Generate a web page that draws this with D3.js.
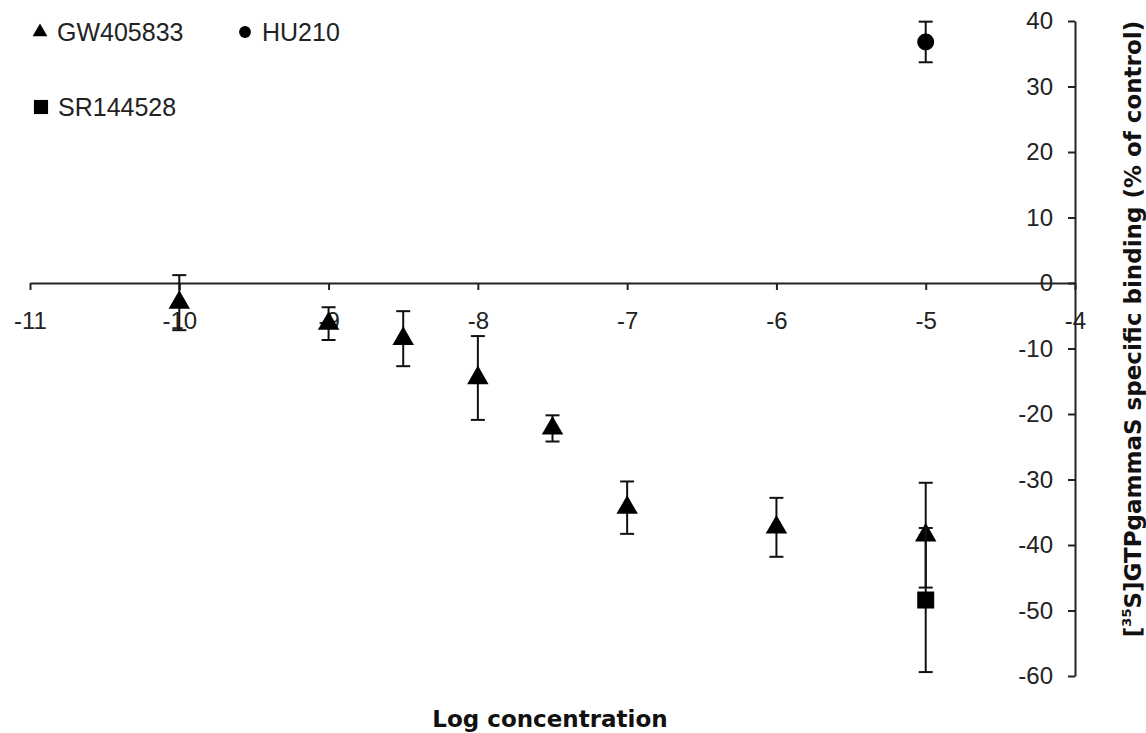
<!DOCTYPE html>
<html>
<head>
<meta charset="utf-8">
<script src="https://cdn.jsdelivr.net/npm/d3@7"></script>
<style>
  body { margin: 0; background: #fff; }
  svg { display: block; }
  .tick text { font-family: "Liberation Sans", Arial, sans-serif; font-size: 24px; fill: #222; }
</style>
</head>
<body>
<div id="chart"></div>
<script>
// log concentrations and binding values (% of control)
var gwConc = [-10, -9, -8.5, -8, -7.5, -7, -6, -5];
var gwMean = [-3, -6.2, -8.5, -14.5, -22.2, -34.3, -37.3, -38.5];
var gwErr  = [4.2, 2.5, 4.2, 6.4, 2, 4, 4.5, 8];

var huConc = [-5];
var huMean = [36.8];
var huErr  = [3.1];

var srConc = [-5];
var srMean = [-48.4];
var srErr  = [11];

var xTicks = [-11, -10, -9, -8, -7, -6, -5, -4];
var yTicks = [-60, -50, -40, -30, -20, -10, 0, 10, 20, 30, 40];

var ctx = { w: 1146, h: 733 };

var svg = d3.select("#chart").append("svg")
  .attr("width", ctx.w)
  .attr("height", ctx.h);

var x = d3.scaleLinear().domain([-11, -4]).range([30, 1075]);
var y = d3.scaleLinear().domain([-60, 40]).range([676, 21]);

// x axis crosses at y = 0
var xAxis = svg.append("g")
  .attr("transform", "translate(0," + y(0) + ")")
  .call(d3.axisBottom(x).tickValues(xTicks).tickSize(7).tickPadding(22).tickSizeOuter(0)
    .tickFormat(d3.format("d")));

// y axis on the right side, at x = -4
var yAxis = svg.append("g")
  .attr("transform", "translate(" + x(-4) + ",0)")
  .call(d3.axisLeft(y).tickValues(yTicks).tickSize(7).tickPadding(15).tickSizeOuter(0)
    .tickFormat(d3.format("d")));

[xAxis, yAxis].forEach(function(a) {
  a.select(".domain").attr("stroke", "#222").attr("stroke-width", 2);
  a.selectAll(".tick line").attr("stroke", "#222").attr("stroke-width", 2);
  a.selectAll(".tick text").text(function(d) { return d < 0 ? "-" + Math.abs(d) : d; });
});

// series with error bars
function drawSeries(conc, mean, err, symbol, size) {
  var g = svg.append("g");
  var rows = conc.map(function(c, i) { return { c: c, m: mean[i], e: err[i] }; });
  var bars = g.selectAll(".eb").data(rows).enter().append("g")
    .attr("stroke", "#111").attr("stroke-width", 2);
  bars.append("line")
    .attr("x1", function(d) { return x(d.c); })
    .attr("x2", function(d) { return x(d.c); })
    .attr("y1", function(d) { return y(d.m + d.e); })
    .attr("y2", function(d) { return y(d.m - d.e); });
  bars.append("line")
    .attr("x1", function(d) { return x(d.c) - 7; })
    .attr("x2", function(d) { return x(d.c) + 7; })
    .attr("y1", function(d) { return y(d.m + d.e); })
    .attr("y2", function(d) { return y(d.m + d.e); });
  bars.append("line")
    .attr("x1", function(d) { return x(d.c) - 7; })
    .attr("x2", function(d) { return x(d.c) + 7; })
    .attr("y1", function(d) { return y(d.m - d.e); })
    .attr("y2", function(d) { return y(d.m - d.e); });
  g.selectAll(".pt").data(rows).enter().append("path")
    .attr("d", d3.symbol().type(symbol).size(size))
    .attr("transform", function(d) { return "translate(" + x(d.c) + "," + y(d.m) + ")"; })
    .attr("fill", "#000");
}

drawSeries(gwConc, gwMean, gwErr, d3.symbolTriangle, 200);
drawSeries(huConc, huMean, huErr, d3.symbolCircle, 227);
drawSeries(srConc, srMean, srErr, d3.symbolSquare, 289);

// legend
var legend = [
  { name: "GW405833", sym: d3.symbolTriangle, size: 95, lx: 40, ly: 32 },
  { name: "HU210", sym: d3.symbolCircle, size: 110, lx: 245, ly: 32 },
  { name: "SR144528", sym: d3.symbolSquare, size: 200, lx: 41, ly: 107 }
];
var lg = svg.append("g").selectAll("g").data(legend).enter().append("g");
lg.append("path")
  .attr("d", function(d) { return d3.symbol().type(d.sym).size(d.size)(); })
  .attr("transform", function(d) { return "translate(" + d.lx + "," + d.ly + ")"; })
  .attr("fill", "#000");
lg.append("text")
  .attr("x", function(d) { return d.lx + 17; })
  .attr("y", function(d) { return d.ly + 9; })
  .attr("font-family", "Liberation Sans, Arial, sans-serif")
  .attr("font-size", 25)
  .attr("fill", "#222")
  .text(function(d) { return d.name; });

// axis titles
svg.append("text")
  .attr("x", 550)
  .attr("y", 727)
  .attr("text-anchor", "middle")
  .attr("font-family", "DejaVu Sans, Verdana, sans-serif")
  .attr("font-weight", "bold")
  .attr("font-size", 23)
  .attr("fill", "#111")
  .text("Log concentration");

var yt = svg.append("text")
  .attr("transform", "translate(1141,329) rotate(-90)")
  .attr("text-anchor", "middle")
  .attr("font-family", "DejaVu Sans, Verdana, sans-serif")
  .attr("font-weight", "bold")
  .attr("font-size", 23)
  .attr("fill", "#111");
yt.append("tspan").text("[");
yt.append("tspan").attr("font-size", 13).attr("dy", -10).text("35");
yt.append("tspan").attr("dy", 10).text("S]GTPgammaS specific binding (% of control)");
</script>
</body>
</html>
